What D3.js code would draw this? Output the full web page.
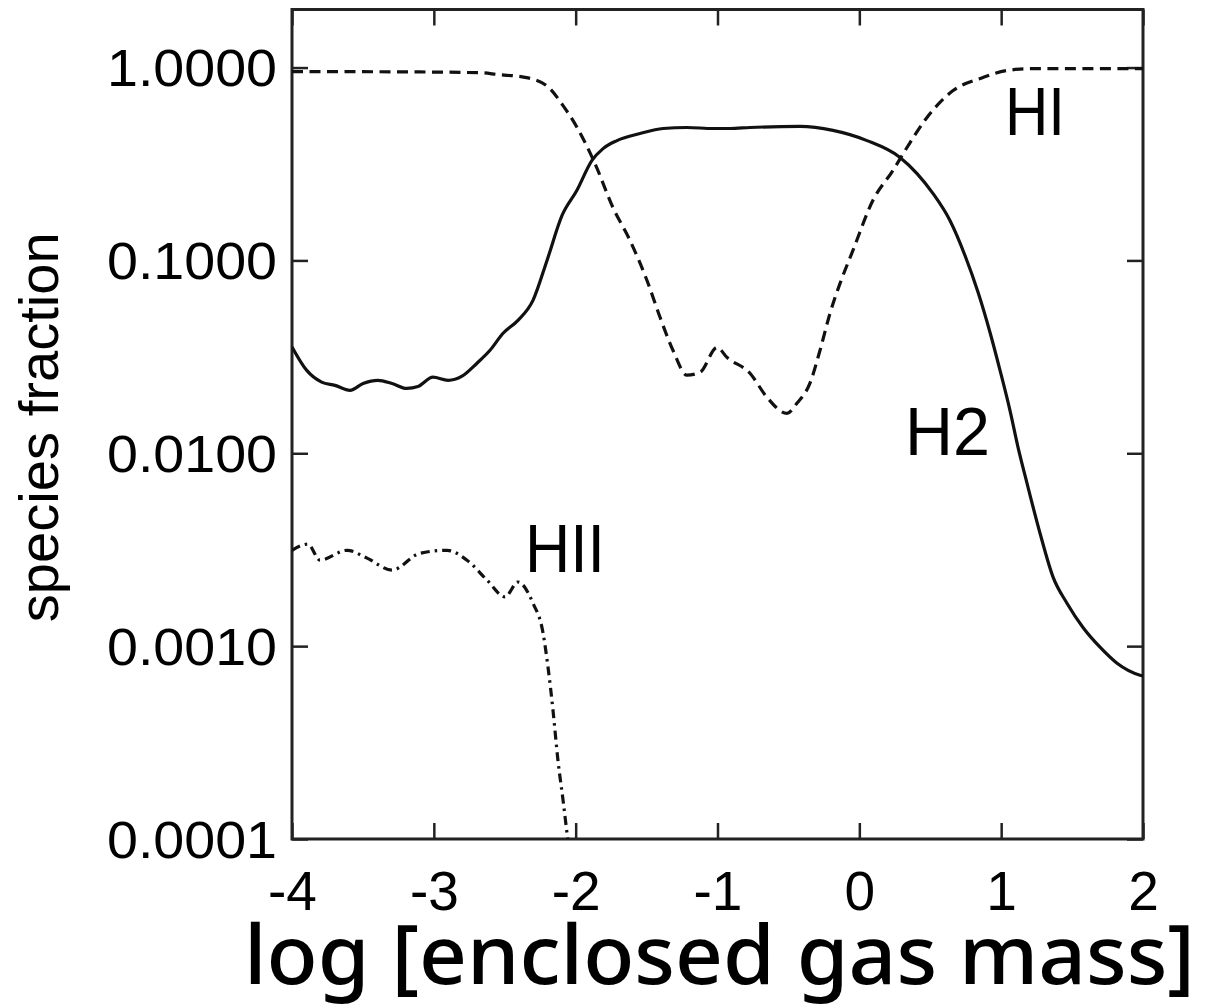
<!DOCTYPE html>
<html>
<head>
<meta charset="utf-8">
<script src="https://cdn.jsdelivr.net/npm/d3@7/dist/d3.min.js"></script>
<style>
  html, body { margin: 0; padding: 0; background: #fff; }
  svg { display: block; }
</style>
</head>
<body>
<svg id="chart" width="1210" height="1007"></svg>
<script>
// log10 of enclosed gas mass (x) and species fraction (y) for each species
const hiMass = [-4, -3.24, -2.67, -2.55, -2.357, -2.20, -2.089, -1.99, -1.864, -1.737, -1.617, -1.497,
  -1.405, -1.314, -1.215, -1.123, -1.003, -0.933, -0.771, -0.651, -0.510, -0.439, -0.348, -0.277,
  -0.207, -0.136, -0.045, 0.096, 0.237, 0.336, 0.477, 0.661, 0.872, 1.041, 1.225, 2.0];
const hiFrac = [0.953, 0.95, 0.94, 0.92, 0.89, 0.80, 0.635, 0.489, 0.318, 0.188, 0.127, 0.0787,
  0.0507, 0.0342, 0.0254, 0.0263, 0.0354, 0.0314, 0.026, 0.0195, 0.0161, 0.0182, 0.0231, 0.0342,
  0.0531, 0.076, 0.1127, 0.205, 0.293, 0.385, 0.551, 0.760, 0.888, 0.965, 0.988, 0.988];

const h2Mass = [-4, -3.896, -3.791, -3.697, -3.591, -3.499, -3.394, -3.295, -3.191, -3.112, -3.006,
  -2.900, -2.801, -2.696, -2.604, -2.512, -2.407, -2.301, -2.202, -2.096, -1.991, -1.885,
  -1.807, -1.709, -1.546, -1.384, -1.215, -1.032, -0.912, -0.771, -0.418, -0.186, 0.054, 0.287,
  0.407, 0.520, 0.639, 0.745, 0.837, 0.921, 0.992, 1.062, 1.119, 1.182, 1.274, 1.366, 1.464,
  1.577, 1.697, 1.817, 1.979, 2.0];
const h2Frac = [0.0356, 0.0269, 0.0234, 0.0225, 0.0212, 0.0230, 0.0239, 0.0230, 0.0217, 0.0222, 0.0248,
  0.0239, 0.0251, 0.0293, 0.0342, 0.0419, 0.0489, 0.0621, 0.100, 0.171, 0.231, 0.330,
  0.380, 0.418, 0.455, 0.483, 0.489, 0.483, 0.483, 0.489, 0.495, 0.472, 0.418, 0.342,
  0.282, 0.222, 0.161, 0.106, 0.0683, 0.0424, 0.0269, 0.0167, 0.01074, 0.0070, 0.00385, 0.00228, 0.00167,
  0.00125, 0.000988, 0.000816, 0.000707, 0.0007];

const hiiMass = [-4, -3.887, -3.803, -3.612, -3.471, -3.295, -3.098, -2.907, -2.766, -2.625, -2.498,
  -2.407, -2.301, -2.230, -2.195, -2.160, -2.125, -2.089, -2.061, -2.04];
const hiiFrac = [0.00314, 0.00338, 0.00279, 0.00314, 0.00286, 0.00248, 0.00303, 0.00314, 0.00279, 0.00220, 0.00180,
  0.00215, 0.00167, 0.00117, 0.000778, 0.000466, 0.000256, 0.000159, 0.000107, 0.00008];

const xTicks = [-4, -3, -2, -1, 0, 1, 2];
const yTicks = [1, 0.1, 0.01, 0.001, 0.0001];
const yTickLabels = ["1.0000", "0.1000", "0.0100", "0.0010", "0.0001"];

const series = [
  { name: "HI",  mass: hiMass,  frac: hiFrac,  dash: "11,6.5",    label: { x: 1005, y: 135, len: 60 } },
  { name: "H2",  mass: h2Mass,  frac: h2Frac,  dash: null,        label: { x: 905,  y: 455, len: 85 } },
  { name: "HII", mass: hiiMass, frac: hiiFrac, dash: "9,5,2.5,5", label: { x: 525,  y: 572, len: 80 } }
];

const svg = d3.select("#chart");
const plotLeft = 292, plotRight = 1143, plotTop = 9.5, plotBottom = 839;

const x = d3.scaleLinear().domain([-4, 2]).range([plotLeft, plotRight]);
const y = d3.scaleLog().domain([1e-4, 2]).range([plotBottom, plotTop]);

svg.append("defs").append("clipPath").attr("id", "plotClip")
  .append("rect").attr("x", plotLeft).attr("y", plotTop)
  .attr("width", plotRight - plotLeft).attr("height", plotBottom - plotTop);

const font = "'Liberation Sans', Arial, Helvetica, sans-serif";

// bottom axis with labels, ticks pointing inward
const gx = svg.append("g").attr("transform", `translate(0,${plotBottom})`)
  .call(d3.axisBottom(x).tickValues(xTicks).tickFormat(d3.format("d"))
    .tickSizeInner(-16).tickSizeOuter(0).tickPadding(32));
gx.select(".domain").remove();
gx.selectAll(".tick line").attr("stroke", "#222").attr("stroke-width", 2.5);
gx.selectAll(".tick text").attr("font-family", font).attr("font-size", 55).attr("fill", "#000")
  .text(d => d < 0 ? "-" + Math.abs(d) : String(d));

// top axis: ticks only
const gt = svg.append("g").attr("transform", `translate(0,${plotTop})`)
  .call(d3.axisTop(x).tickValues(xTicks).tickFormat("").tickSizeInner(-16).tickSizeOuter(0));
gt.select(".domain").remove();
gt.selectAll(".tick line").attr("stroke", "#222").attr("stroke-width", 2.5);

// left axis with labels
const gy = svg.append("g").attr("transform", `translate(${plotLeft},0)`)
  .call(d3.axisLeft(y).tickValues(yTicks).tickFormat((d, i) => yTickLabels[i])
    .tickSizeInner(-16).tickSizeOuter(0).tickPadding(15));
gy.select(".domain").remove();
gy.selectAll(".tick line").attr("stroke", "#222").attr("stroke-width", 2.5);
gy.selectAll(".tick text").attr("font-family", font).attr("font-size", 51).attr("fill", "#000")
  .attr("dy", "0.36em")
  .attr("textLength", 170).attr("lengthAdjust", "spacingAndGlyphs");

// right axis: ticks only
const gr = svg.append("g").attr("transform", `translate(${plotRight},0)`)
  .call(d3.axisRight(y).tickValues(yTicks).tickFormat("").tickSizeInner(-16).tickSizeOuter(0));
gr.select(".domain").remove();
gr.selectAll(".tick line").attr("stroke", "#222").attr("stroke-width", 2.5);

// frame
svg.append("rect").attr("x", plotLeft).attr("y", plotTop)
  .attr("width", plotRight - plotLeft).attr("height", plotBottom - plotTop)
  .attr("fill", "none").attr("stroke", "#222").attr("stroke-width", 3);

// curves
const line = d3.line()
  .x(d => x(d[0]))
  .y(d => y(d[1]))
  .curve(d3.curveMonotoneX);

const plot = svg.append("g").attr("clip-path", "url(#plotClip)");
series.forEach(s => {
  const pts = s.mass.map((m, i) => [m, s.frac[i]]);
  plot.append("path")
    .attr("d", line(pts))
    .attr("fill", "none")
    .attr("stroke", "#111")
    .attr("stroke-width", 3.2)
    .attr("stroke-linejoin", "round")
    .attr("stroke-dasharray", s.dash);
});

// species labels
series.forEach(s => {
  svg.append("text")
    .attr("x", s.label.x).attr("y", s.label.y)
    .attr("font-family", font).attr("font-size", 68).attr("fill", "#000")
    .attr("textLength", s.label.len).attr("lengthAdjust", "spacingAndGlyphs")
    .text(s.name);
});

// axis titles
svg.append("text")
  .attr("transform", `translate(58,${(plotTop + plotBottom) / 2 + 3}) rotate(-90)`)
  .attr("text-anchor", "middle")
  .attr("font-family", font).attr("font-size", 56).attr("fill", "#000")
  .attr("textLength", 390).attr("lengthAdjust", "spacingAndGlyphs")
  .text("species fraction");

svg.append("text")
  .attr("x", 244).attr("y", 984)
  .attr("font-family", "'Noto Sans', 'Noto Sans CJK JP', sans-serif")
  .attr("font-weight", 500)
  .attr("font-size", 82).attr("fill", "#000")
  .attr("textLength", 951).attr("lengthAdjust", "spacingAndGlyphs")
  .text("log [enclosed gas mass]");
</script>
</body>
</html>
